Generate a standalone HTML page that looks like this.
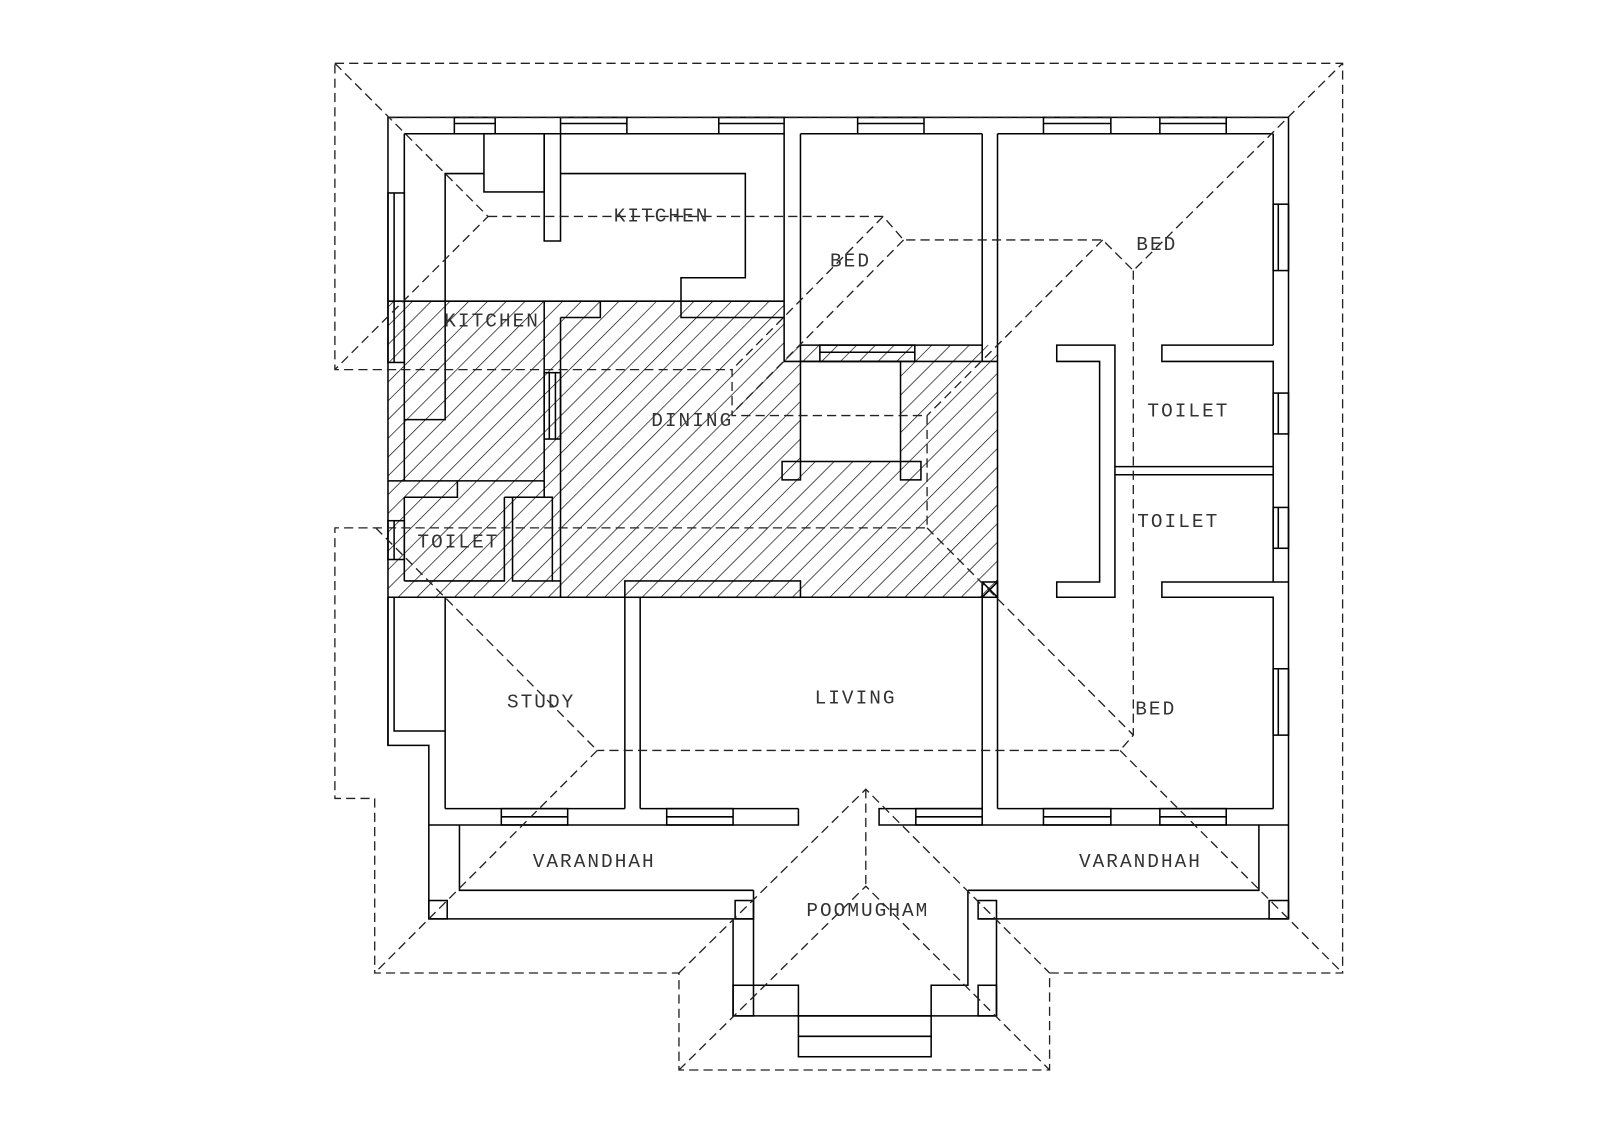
<!DOCTYPE html>
<html><head><meta charset="utf-8"><style>
html,body{margin:0;padding:0;background:#fff;width:1600px;height:1130px;overflow:hidden}
svg{display:block}
text{font-family:"Liberation Mono",monospace;font-size:19px;fill:#333;letter-spacing:2px;text-anchor:middle}
</style></head><body>
<svg width="1600" height="1130" viewBox="0 0 1600 1130" xmlns="http://www.w3.org/2000/svg">
<defs>
<pattern id="h" width="13" height="13" patternUnits="userSpaceOnUse" patternTransform="rotate(45)">
<line x1="0" y1="0" x2="0" y2="13" stroke="#000" stroke-width="1.3"/>
</pattern>
</defs>
<rect width="1600" height="1130" fill="#fff"/>
<g transform="scale(1.021)">
<!-- hatch -->
<polygon points="380,295 768,295 768,338 977,338 977,585 380,585" fill="url(#h)"/>
<rect x="784" y="354" width="98" height="98" fill="#fff"/>
<g fill="none" stroke="#000" stroke-width="1.5">
<!-- outer wall -->
<polyline points="380,730 380,115 1262,115 1262,900"/>
<line x1="396" y1="131" x2="768" y2="131"/>
<line x1="784" y1="131" x2="962" y2="131"/>
<line x1="977" y1="131" x2="1247" y2="131"/>
<!-- top windows -->
<g>
<rect x="445" y="115" width="40" height="16"/><line x1="445" y1="121" x2="485" y2="121"/>
<rect x="549" y="115" width="65" height="16"/><line x1="549" y1="121" x2="614" y2="121"/>
<rect x="704" y="115" width="64" height="16"/><line x1="704" y1="121" x2="768" y2="121"/>
<rect x="840" y="115" width="65" height="16"/><line x1="840" y1="121" x2="905" y2="121"/>
<rect x="1022" y="115" width="66" height="16"/><line x1="1022" y1="121" x2="1088" y2="121"/>
<rect x="1136" y="115" width="65" height="16"/><line x1="1136" y1="121" x2="1201" y2="121"/>
</g>
<!-- left wall inner & window -->
<line x1="396" y1="131" x2="396" y2="471"/>
<line x1="396" y1="487" x2="396" y2="569"/>
<rect x="380" y="189" width="16" height="166"/><line x1="386" y1="189" x2="386" y2="355"/>
<rect x="380" y="510" width="16" height="38"/><line x1="386" y1="510" x2="386" y2="548"/>
<!-- kitchen counter -->
<polyline points="396,411 436,411 436,170 474,170"/>
<rect x="474" y="131" width="59" height="57"/>
<polyline points="533,131 533,236 549,236 549,131"/>
<polyline points="549,170 730,170 730,272 667,272 667,311 768,311"/>
<line x1="380" y1="295" x2="768" y2="295"/>
<polyline points="549,311 588,311 588,295"/>
<!-- kitchen/bed walls -->
<polyline points="768,131 768,354 784,354 784,131"/>
<line x1="784" y1="338" x2="962" y2="338"/>
<line x1="784" y1="354" x2="977" y2="354"/>
<rect x="803" y="338" width="93" height="16"/><line x1="803" y1="345" x2="896" y2="345"/>
<line x1="962" y1="131" x2="962" y2="354"/>
<line x1="977" y1="131" x2="977" y2="792"/>
<line x1="962" y1="570" x2="962" y2="792"/>
<rect x="962" y="570" width="15" height="15"/>
<line x1="962" y1="570" x2="977" y2="585"/><line x1="977" y1="570" x2="962" y2="585"/>
<!-- courtyard -->
<rect x="784" y="354" width="98" height="98"/>
<rect x="766" y="452" width="18" height="18"/>
<rect x="882" y="452" width="20" height="18"/>
<!-- kitchen2 / toilet -->
<line x1="533" y1="295" x2="533" y2="471"/>
<line x1="549" y1="311" x2="549" y2="585"/>
<rect x="533" y="365" width="16" height="65"/><line x1="538" y1="365" x2="538" y2="430"/><line x1="544" y1="365" x2="544" y2="430"/>
<line x1="380" y1="471" x2="533" y2="471"/>
<polyline points="396,487 448,487 448,471"/>
<polyline points="494,487 494,569 396,569"/>
<polyline points="533,471 533,487 494,487"/>
<rect x="502" y="487" width="39" height="82"/>
<polyline points="541,569 549,569"/>
<line x1="380" y1="585" x2="977" y2="585"/>
<rect x="612" y="569" width="172" height="16"/>
<!-- study / living -->
<polyline points="380,585 380,730 420,730 420,900"/>
<polyline points="386,585 386,716 436,716"/>
<line x1="436" y1="585" x2="436" y2="792"/>
<line x1="612" y1="585" x2="612" y2="792"/>
<line x1="627" y1="585" x2="627" y2="792"/>
<line x1="436" y1="792" x2="612" y2="792"/>
<line x1="627" y1="792" x2="782" y2="792"/>
<polyline points="420,808 782,808 782,792"/>
<polyline points="1262,808 861,808 861,792 962,792"/>
<line x1="977" y1="792" x2="1247" y2="792"/>
<rect x="491" y="792" width="65" height="16"/><line x1="491" y1="800" x2="556" y2="800"/>
<rect x="653" y="792" width="65" height="16"/><line x1="653" y1="800" x2="718" y2="800"/>
<rect x="897" y="792" width="65" height="16"/><line x1="897" y1="800" x2="962" y2="800"/>
<rect x="1022" y="792" width="66" height="16"/><line x1="1022" y1="800" x2="1088" y2="800"/>
<rect x="1136" y="792" width="65" height="16"/><line x1="1136" y1="800" x2="1201" y2="800"/>
<!-- right side -->
<line x1="1247" y1="131" x2="1247" y2="338"/>
<polyline points="1247,338 1138,338 1138,354 1247,354 1247,570"/>
<polyline points="1262,570 1138,570 1138,585 1247,585 1247,792"/>
<polygon points="1035,338 1092,338 1092,585 1035,585 1035,570 1077,570 1077,354 1035,354"/>
<line x1="1092" y1="457" x2="1247" y2="457"/>
<line x1="1092" y1="465" x2="1247" y2="465"/>
<rect x="1247" y="200" width="15" height="65"/><line x1="1252" y1="200" x2="1252" y2="265"/>
<rect x="1247" y="385" width="15" height="40"/><line x1="1252" y1="385" x2="1252" y2="425"/>
<rect x="1247" y="497" width="15" height="40"/><line x1="1252" y1="497" x2="1252" y2="537"/>
<rect x="1247" y="655" width="15" height="65"/><line x1="1252" y1="655" x2="1252" y2="720"/>
<!-- varandhah left -->
<polyline points="450,808 450,872 738,872"/>
<line x1="420" y1="900" x2="738" y2="900"/>
<rect x="420" y="882" width="18" height="18"/>
<rect x="720" y="882" width="18" height="18"/>
<!-- poomugham -->
<polyline points="738,872 738,965 782,965 782,995"/>
<polyline points="718,900 718,995 976,995 976,900"/>
<polyline points="948,872 948,965 912,965 912,995"/>
<rect x="718" y="965" width="20" height="30"/>
<rect x="958" y="965" width="18" height="30"/>
<rect x="782" y="995" width="130" height="20"/>
<rect x="782" y="1015" width="130" height="20"/>
<!-- varandhah right -->
<polyline points="1233,808 1233,872 948,872"/>
<line x1="958" y1="900" x2="1262" y2="900"/>
<rect x="958" y="882" width="18" height="18"/>
<rect x="1243" y="882" width="19" height="18"/>
</g>
<!-- dashed roof -->
<g fill="none" stroke="#222" stroke-width="1.3" stroke-dasharray="9,5">
<polygon points="328,62 1315,62 1315,953 1028,953 1028,1048 665,1048 665,953 367,953 367,782 328,782 328,517 908,517 908,407 717,407 717,362 328,362"/>
<polyline points="328,62 478,212 328,362"/>
<polyline points="478,212 865,212 885,235 1080,235 1110,265 1315,62"/>
<line x1="865" y1="212" x2="717" y2="362"/>
<line x1="885" y1="235" x2="717" y2="405"/>
<line x1="1080" y1="235" x2="908" y2="407"/>
<polyline points="1110,265 1110,720 1097,735 585,735"/>
<line x1="1097" y1="735" x2="1315" y2="953"/>
<line x1="908" y1="517" x2="1110" y2="720"/>
<line x1="368" y1="517" x2="585" y2="735"/>
<line x1="585" y1="735" x2="367" y2="953"/>
<polyline points="665,953 848,773 1028,953"/>
<line x1="848" y1="773" x2="848" y2="868"/>
<polyline points="665,1048 848,868 1028,1048"/>
<line x1="380" y1="115" x2="1262" y2="115"/>
</g>
<!-- labels -->
<text x="648" y="217">KITCHEN</text>
<text x="482" y="320">KITCHEN</text>
<text x="833" y="261">BED</text>
<text x="1133" y="245">BED</text>
<text x="678" y="417">DINING</text>
<text x="1164" y="408">TOILET</text>
<text x="1154" y="516">TOILET</text>
<text x="449" y="536">TOILET</text>
<text x="530" y="693">STUDY</text>
<text x="838" y="689">LIVING</text>
<text x="1132" y="700">BED</text>
<text x="582" y="849">VARANDHAH</text>
<text x="1117" y="849">VARANDHAH</text>
<text x="850" y="897">POOMUGHAM</text>
</g>
</svg>
</body></html>
